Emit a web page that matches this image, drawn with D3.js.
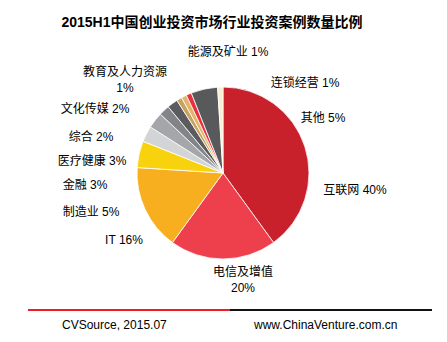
<!DOCTYPE html>
<html>
<head>
<meta charset="utf-8">
<script src="https://cdn.jsdelivr.net/npm/d3@7"></script>
<style>
  html, body { margin: 0; padding: 0; background: #fff; }
  svg { display: block; }
  text { font-family: "Liberation Sans", Arial, "Noto Sans CJK SC", sans-serif; }
</style>
</head>
<body>
<svg id="chart" width="447" height="342"></svg>
<script>
// Industry breakdown of deal counts (percent)
const categories = ["互联网", "电信及增值", "IT", "制造业", "金融", "医疗健康", "综合", "文化传媒", "教育及人力资源", "能源及矿业", "连锁经营", "其他", ""];
const values     = [40, 20, 16, 5, 3, 3, 2, 2, 1, 1, 1, 5, 1];
const valueLabels = ["40%", "20%", "16%", "5%", "3%", "3%", "2%", "2%", "1%", "1%", "1%", "5%", ""];
const colors = ["#c8212c", "#ee3f4d", "#f7ae1f", "#f8d20c", "#d3d4d6", "#a5a6a9", "#838487", "#5b5c5f",
                "#c9a161", "#e3b56b", "#e8303e", "#58595b", "#f8efcf"];

// label anchor points (text centre) for each slice
const labelPos = [
  [355, 190, 1], [243, 272, 2], [124, 240, 1], [91, 212, 1], [85, 185, 1], [92, 161, 1],
  [91, 137, 1], [95, 109, 1], [125, 72, 2], [228, 52, 1], [305, 83, 1], [323, 118, 1], null
];

const svg = d3.select("#chart");

svg.append("text")
  .attr("x", 212).attr("y", 27)
  .attr("text-anchor", "middle")
  .attr("font-size", 14).attr("font-weight", "bold")
  .attr("fill", "#000")
  .text("2015H1中国创业投资市场行业投资案例数量比例");

const cx = 223, cy = 173, r = 86;
const pie = d3.pie().sort(null).value(d => d.v);
const arc = d3.arc().innerRadius(0).outerRadius(r);
const data = categories.map((c, i) => ({ c, v: values[i], lab: valueLabels[i], col: colors[i], pos: labelPos[i] }));

const g = svg.append("g").attr("transform", `translate(${cx},${cy})`);
g.selectAll("path")
  .data(pie(data))
  .join("path")
  .attr("d", arc)
  .attr("fill", d => d.data.col)
  .attr("stroke", "#fff")
  .attr("stroke-width", 0.8);

// slice labels
const lab = svg.append("g").attr("font-size", 12).attr("fill", "#000");
data.forEach(d => {
  if (!d.pos) return;
  const [x, y, lines] = d.pos;
  const t = lab.append("text").attr("text-anchor", "middle");
  if (lines === 1) {
    t.attr("x", x).attr("y", y + 4).text(d.c + " " + d.lab);
  } else {
    t.append("tspan").attr("x", x).attr("y", y + 4).text(d.c);
    t.append("tspan").attr("x", x).attr("y", y + 20).text(d.lab);
  }
});

// footer rules and source line
svg.append("line").attr("x1", 28).attr("x2", 230).attr("y1", 310).attr("y2", 310)
  .attr("stroke", "#ee1c25").attr("stroke-width", 2);
svg.append("line").attr("x1", 230).attr("x2", 432).attr("y1", 310).attr("y2", 310)
  .attr("stroke", "#111").attr("stroke-width", 2);
svg.append("text").attr("x", 62).attr("y", 329).attr("font-size", 12).attr("fill", "#000")
  .text("CVSource, 2015.07");
svg.append("text").attr("x", 254).attr("y", 329).attr("font-size", 12).attr("fill", "#000")
  .text("www.ChinaVenture.com.cn");
</script>
</body>
</html>
